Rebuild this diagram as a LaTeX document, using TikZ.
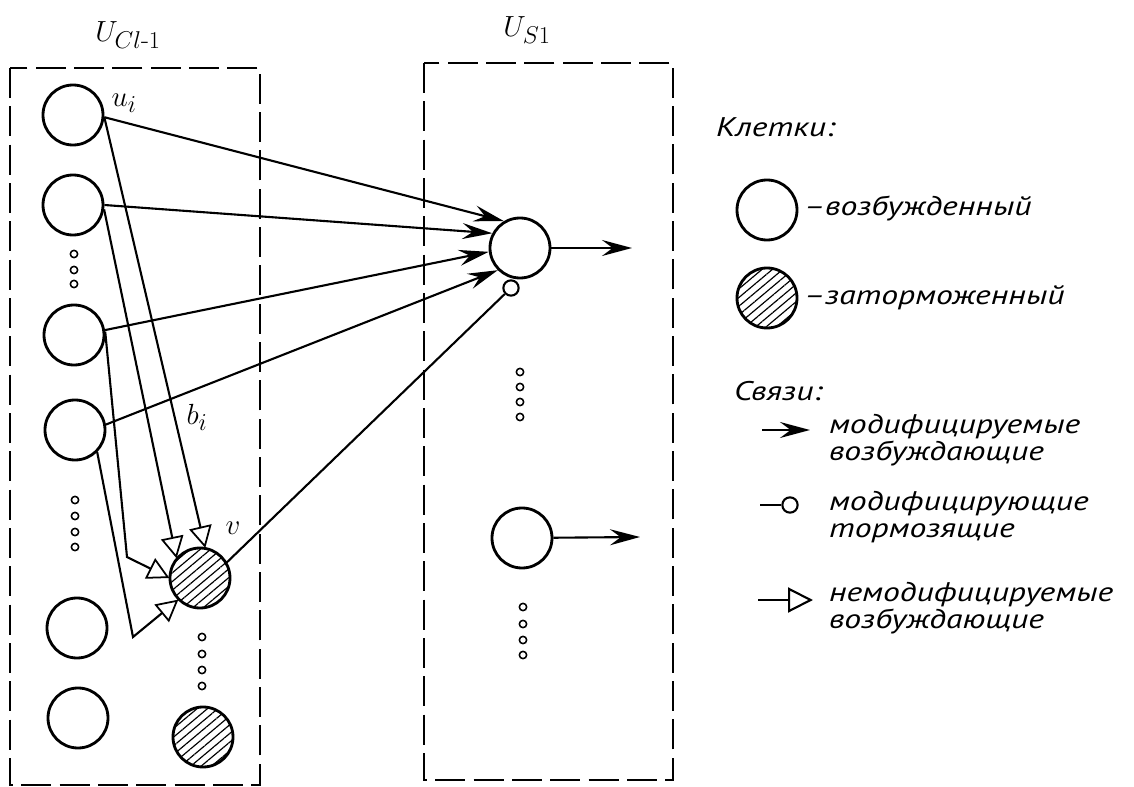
\documentclass[tikz,border=0pt]{standalone}
\usepackage{amsmath}
\usepackage{fontspec}
\newfontfamily\lfont[FakeStretch=1.25]{PT Sans}
\usetikzlibrary{arrows.meta,patterns.meta}

\begin{document}
\begin{tikzpicture}[x=0.03cm,y=-0.03cm,line width=1.8pt,
  cell/.style={draw,circle,line width=2.4pt,minimum size=1.8cm,inner sep=0pt},
  inh/.style={cell,pattern={Lines[angle=40,distance=0.2cm,line width=1pt]}},
  pt/.style={draw,circle,line width=1.3pt,minimum size=0.22cm,inner sep=0pt},
  box/.style={dash pattern=on 0.9cm off 0.25cm,line width=2pt},
  mod/.style={-{Stealth[length=0.9cm,width=0.48cm,inset=0.32cm]}},
  nmod/.style={-{Triangle[open,length=0.65cm,width=0.68cm,line width=1.5pt]}},
  lbl/.style={font=\lfont\itshape\fontsize{23}{23}\selectfont,inner sep=0pt},
  mth/.style={font=\fontsize{32}{34}\selectfont,inner sep=0pt}]
\useasboundingbox (0,0) rectangle (1134,787);

% layers
\draw[box] (10,68) rectangle (260,785);
\draw[box] (424,63) rectangle (673,780);
\node[mth] (Ucl) at (128,35) {$U_{Cl\text{-}1}$};
\node[mth] (Us) at (527,30) {$U_{S1}$};

% layer Cl-1
\node[cell] (C1) at (73,115) {};
\node[cell] (C2) at (73,205) {};
\node[cell] (C3) at (74,335) {};
\node[cell] (C4) at (75,430) {};
\node[cell] (C5) at (77,628) {};
\node[cell] (C6) at (78,718) {};
\node[inh] (V) at (200,578) {};
\node[inh] (V2) at (203,737) {};
\foreach \y in {254,270,284} \node[pt] at (74,\y) {};
\foreach \y in {500,516,532,547} \node[pt] at (75,\y) {};
\foreach \y in {637,654,670,686} \node[pt] at (202,\y) {};
\node[mth] (ui) at (124,103) {$u_i$};
\node[mth] (bi) at (197,417) {$b_i$};
\node[mth] (vl) at (233,528) {$v$};

% layer S1
\node[cell] (N1) at (520,248) {};
\node[cell] (N2) at (522,538) {};
\node[pt,line width=1.8pt,minimum size=0.46cm] (I) at (511,288) {};
\foreach \y in {372,387,402,417} \node[pt] at (520,\y) {};
\foreach \y in {607,624,640,655} \node[pt] at (523,\y) {};
\coordinate (O1) at (632,248);
\coordinate (O2) at (640,537);
\draw[mod] (N1) -- (O1);
\draw[mod] (N2) -- (O2);

% links to S1
\draw[mod] (C1.-4) -- (N1.121);
\draw[mod] (C2.east) -- (N1.152);
\draw[mod] (C3.9) -- (N1.187);
\draw[mod] (C4.10) -- (N1.225);
\draw (V.30) -- (I);

% links to v
\coordinate (B3) at (127,557);
\coordinate (B4) at (133,637);
\draw[nmod] (C1.-4) -- (V.80);
\draw[nmod] (C2.-8) -- (V.140);
\draw[nmod] (C3.6) -- (B3) -- (V.west);
\draw[nmod] (C4.-45) -- (B4) -- (V.225);

% legend
\node[lbl,anchor=base west] (k) at (715,137) {Клетки:};
\node[cell] (L1) at (767,210) {};
\node[lbl,anchor=base west] (t1) at (803,215) {–возбужденный};
\node[inh] (L2) at (767,298) {};
\node[lbl,anchor=base west] (t2) at (803,304) {–заторможенный};
\node[lbl,anchor=base west] (s) at (733,400) {Связи:};
\coordinate (a1) at (762,430);
\coordinate (a2) at (810,430);
\draw[mod] (a1) -- (a2);
\node[lbl,anchor=west,align=left] (t3) at (828,440) {модифицируемые\\возбуждающие};
\coordinate (a3) at (760,505);
\node[pt,line width=1.8pt,minimum size=0.46cm] (li) at (790,505) {};
\draw (a3) -- (li);
\node[lbl,anchor=west,align=left] (t4) at (828,517) {модифицирующие\\тормозящие};
\coordinate (a4) at (758,600);
\coordinate (a5) at (813,600);
\draw[-{Triangle[open,length=0.75cm,width=0.75cm,line width=1.8pt]}] (a4) -- (a5);
\node[lbl,anchor=west,align=left] (t5) at (828,608) {немодифицируемые\\возбуждающие};
\end{tikzpicture}
\end{document}
